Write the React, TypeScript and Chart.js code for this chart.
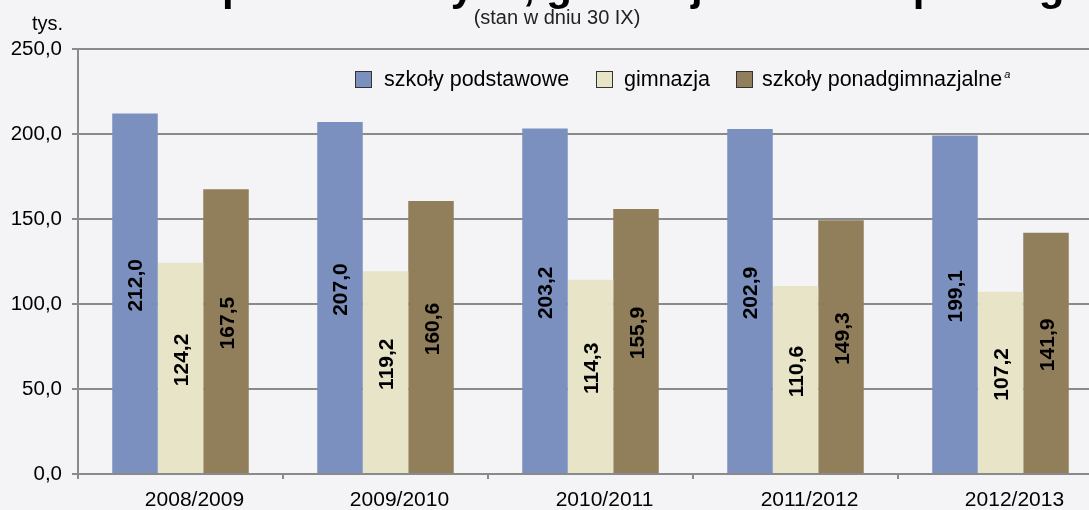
import React, { useEffect, useRef } from 'react';
import { Chart, registerables } from 'chart.js';

Chart.register(...registerables);

const categories = ['2008/2009', '2009/2010', '2010/2011', '2011/2012', '2012/2013'];
const primarySchools = [212.0, 207.0, 203.2, 202.9, 199.1];
const lowerSecondary = [124.2, 119.2, 114.3, 110.6, 107.2];
const upperSecondary = [167.5, 160.6, 155.9, 149.3, 141.9];
const seriesNames = ['szkoły podstawowe', 'gimnazja', 'szkoły ponadgimnazjalne'];
const seriesColors = ['#7b90bf', '#e8e4c7', '#917f5b'];
const yMin = 0;
const yMax = 250;
const yStep = 50;
const titleText = 'Uczniowie szkół podstawowych, gimnazjów i szkół ponadgimnazjalnych';
const titlePrefix = 'Uczniowie szkół ';
const subtitleText = '(stan w dniu 30 IX)';
const unitText = 'tys.';
const footnoteMark = 'a';

const fmt = (v: number) => v.toFixed(1).replace('.', ',');

const GRID = '#8a8a8a';
const BG = '#f4f4f6';
const FONT = '"Liberation Sans", Arial, sans-serif';

export default function App() {
  const ref = useRef<HTMLCanvasElement | null>(null);

  useEffect(() => {
    const canvas = ref.current;
    if (!canvas) return;

    const labelsPlugin = {
      id: 'barLabels',
      afterDatasetsDraw(chart: any) {
        const ctx = chart.ctx;
        ctx.save();
        ctx.font = `bold 21px ${FONT}`;
        ctx.fillStyle = '#000';
        ctx.textAlign = 'center';
        ctx.textBaseline = 'alphabetic';
        chart.data.datasets.forEach((ds: any, di: number) => {
          const meta = chart.getDatasetMeta(di);
          meta.data.forEach((el: any, i: number) => {
            const cy = (el.y + el.base) / 2 - 8;
            ctx.save();
            ctx.translate(el.x + 7.5, cy);
            ctx.rotate(-Math.PI / 2);
            ctx.fillText(fmt(ds.data[i]), 0, 0);
            ctx.restore();
          });
        });
        ctx.restore();
      },
    };

    const decorPlugin = {
      id: 'decor',
      afterDraw(chart: any) {
        const ctx = chart.ctx;
        ctx.save();
        // Title (cropped at top: only descenders visible)
        ctx.font = `bold 42px ${FONT}`;
        ctx.fillStyle = '#000';
        ctx.textAlign = 'left';
        ctx.textBaseline = 'alphabetic';
        const pre = ctx.measureText(titlePrefix).width;
        ctx.fillText(titleText, 222 - pre, 0);
        // Subtitle
        ctx.font = `20px ${FONT}`;
        ctx.fillStyle = '#222';
        ctx.textAlign = 'center';
        ctx.fillText(subtitleText, 557, 24);
        // Unit
        ctx.textAlign = 'right';
        ctx.fillStyle = '#000';
        ctx.fillText(unitText, 63, 30);
        // Legend
        const boxX = [355, 596, 736];
        const textX = [384, 624, 762];
        ctx.font = `21.5px ${FONT}`;
        ctx.textAlign = 'left';
        for (let i = 0; i < 3; i++) {
          ctx.fillStyle = seriesColors[i];
          ctx.fillRect(boxX[i], 71, 17, 17);
          ctx.strokeStyle = '#333';
          ctx.lineWidth = 1;
          ctx.strokeRect(boxX[i] + 0.5, 71.5, 16, 16);
          ctx.fillStyle = '#000';
          ctx.fillText(seriesNames[i], textX[i], 86);
        }
        const w3 = ctx.measureText(seriesNames[2]).width;
        ctx.font = `italic 11px ${FONT}`;
        ctx.fillText(footnoteMark, textX[2] + w3 + 2, 78);
        ctx.restore();
      },
    };

    const chart = new Chart(canvas, {
      type: 'bar',
      data: {
        labels: categories,
        datasets: [
          { label: seriesNames[0], data: primarySchools, backgroundColor: seriesColors[0] },
          { label: seriesNames[1], data: lowerSecondary, backgroundColor: seriesColors[1] },
          { label: seriesNames[2], data: upperSecondary, backgroundColor: seriesColors[2] },
        ],
      },
      options: {
        animation: false,
        responsive: false,
        devicePixelRatio: 1,
        layout: { padding: { top: 49, right: 17, bottom: 0, left: 0 } },
        datasets: { bar: { categoryPercentage: 0.666, barPercentage: 1.0 } },
        plugins: {
          legend: { display: false },
          title: { display: false },
          tooltip: { enabled: false },
        },
        scales: {
          x: {
            afterFit: (s: any) => { s.height = 36; },
            grid: {
              display: true,
              drawOnChartArea: false,
              drawTicks: true,
              tickLength: 5,
              color: GRID,
              lineWidth: 2,
              offset: true,
            },
            border: { display: true, color: GRID, width: 2 },
            ticks: {
              color: '#000',
              padding: 9,
              labelOffset: 14,
              font: { family: FONT, size: 21 },
              maxRotation: 0,
              autoSkip: false,
            },
          },
          y: {
            min: yMin,
            max: yMax,
            afterFit: (s: any) => { s.width = 78; },
            grid: {
              color: GRID,
              lineWidth: 2,
              drawTicks: true,
              tickLength: 6,
            },
            border: { display: true, color: GRID, width: 2 },
            ticks: {
              stepSize: yStep,
              color: '#000',
              padding: 10,
              font: { family: FONT, size: 20.5 },
              callback: (v: any) => fmt(Number(v)),
            },
          },
        },
      },
      plugins: [labelsPlugin, decorPlugin],
    });

    return () => chart.destroy();
  }, []);

  return (
    <div
      style={{
        position: 'fixed',
        left: 0,
        top: 0,
        width: 1089,
        height: 510,
        overflow: 'hidden',
        background: BG,
      }}
    >
      <canvas ref={ref} width={1120} height={510} style={{ display: 'block' }} />
    </div>
  );
}
